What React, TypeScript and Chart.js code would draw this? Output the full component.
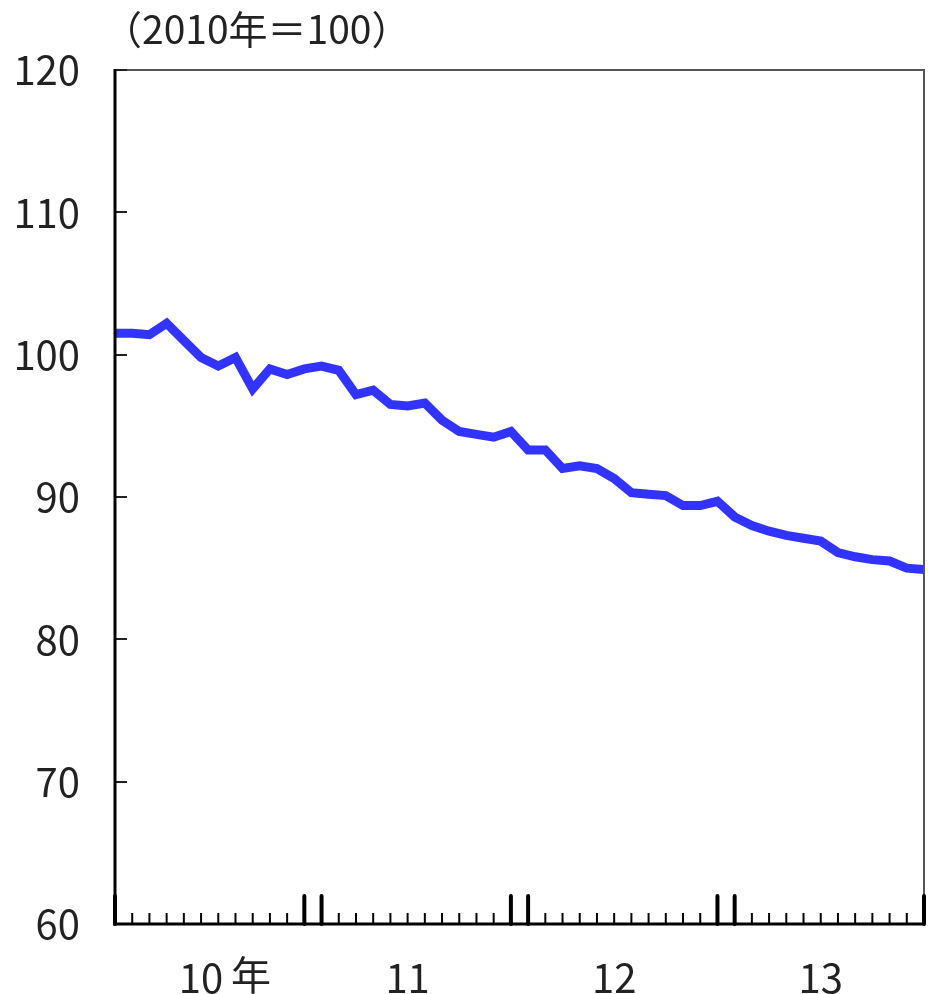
import { useEffect, useRef } from 'react';
import { Chart, registerables } from 'chart.js';

Chart.register(...registerables);

// Monthly index, Jan 2010 – Dec 2013 (2010 = 100)
const years = ['2010', '2011', '2012', '2013'];
const monthNums = ['01', '02', '03', '04', '05', '06', '07', '08', '09', '10', '11', '12'];
const categories: string[] = years.flatMap((y) => monthNums.map((m) => `${y}-${m}`));

const indexValues = [
  101.5, 101.5, 101.4, 102.2, 101.0, 99.8, 99.2, 99.8, 97.6, 99.0, 98.6, 99.0,
  99.2, 98.9, 97.2, 97.5, 96.5, 96.4, 96.6, 95.4, 94.6, 94.4, 94.2, 94.6,
  93.3, 93.3, 92.0, 92.2, 92.0, 91.3, 90.3, 90.2, 90.1, 89.4, 89.4, 89.7,
  88.6, 88.0, 87.6, 87.3, 87.1, 86.9, 86.1, 85.8, 85.6, 85.5, 85.0, 84.9,
];

// Year labels sit under June of each year
const yearLabels = ['10', '11', '12', '13'];
const yearLabelIndex = [5, 17, 29, 41];
const yearSuffix = '年';

const yMin = 60;
const yMax = 120;
const yStep = 10;

const titleText = '（2010年＝100）';

const FONT = '"Noto Sans CJK JP", "Noto Sans", sans-serif';
const TEXT_COLOR = '#222222';
const LINE_COLOR = '#3333FF';

const framePlugin = {
  id: 'framePlugin',
  afterDatasetsDraw(chart: any) {
    const { ctx, chartArea } = chart;
    const xs = chart.scales.x;
    const ys = chart.scales.y;
    const { left, right, top, bottom } = chartArea;
    ctx.save();
    // top & right frame (gray, thin)
    ctx.strokeStyle = '#555555';
    ctx.lineWidth = 2;
    ctx.beginPath();
    ctx.moveTo(left, top);
    ctx.lineTo(right, top);
    ctx.lineTo(right, bottom);
    ctx.stroke();
    // y inner ticks
    ctx.strokeStyle = '#222222';
    ctx.lineWidth = 2;
    for (let v = yMin + yStep; v <= yMax; v += yStep) {
      const py = Math.round(ys.getPixelForValue(v));
      ctx.beginPath();
      ctx.moveTo(left, py);
      ctx.lineTo(left + 12, py);
      ctx.stroke();
    }
    // x inner ticks (one per month, long at year boundaries)
    categories.forEach((_, i) => {
      const px = xs.getPixelForValue(i);
      const m = i % 12;
      const major = m === 0 || m === 11;
      ctx.beginPath();
      ctx.strokeStyle = '#000000';
      ctx.lineWidth = major ? 4 : 2;
      ctx.lineCap = major ? 'round' : 'butt';
      ctx.moveTo(px, bottom);
      ctx.lineTo(px, bottom - (major ? 28 : 11));
      ctx.stroke();
    });
    ctx.lineCap = 'butt';
    // left & bottom axes (black, thicker)
    ctx.strokeStyle = '#000000';
    ctx.lineWidth = 3;
    ctx.beginPath();
    ctx.moveTo(left, top - 1);
    ctx.lineTo(left, bottom);
    ctx.lineTo(right + 1, bottom);
    ctx.stroke();
    ctx.restore();
  },
  afterDraw(chart: any) {
    const { ctx } = chart;
    const xs = chart.scales.x;
    ctx.save();
    ctx.fillStyle = TEXT_COLOR;
    ctx.font = `39px ${FONT}`;
    ctx.textBaseline = 'middle';
    ctx.textAlign = 'left';
    ctx.fillText(titleText, 103, 29);
    // "年" suffix following the first year label
    ctx.font = `40px ${FONT}`;
    ctx.textAlign = 'center';
    ctx.textBaseline = 'middle';
    const px = xs.getPixelForValue(yearLabelIndex[0]);
    ctx.fillText(yearSuffix, px + 50, 975);
    ctx.restore();
  },
};

export default function App() {
  const ref = useRef<HTMLCanvasElement | null>(null);

  useEffect(() => {
    if (!ref.current) return;
    const chart = new Chart(ref.current, {
      type: 'line',
      data: {
        labels: categories,
        datasets: [
          {
            data: indexValues.map((v, i) => ({ x: i, y: v })),
            borderColor: LINE_COLOR,
            backgroundColor: LINE_COLOR,
            borderWidth: 9,
            pointRadius: 0,
            tension: 0,
            borderJoinStyle: 'miter',
            fill: false,
          },
        ],
      },
      options: {
        animation: false,
        responsive: false,
        maintainAspectRatio: false,
        layout: { padding: { left: 0, right: 10, top: 70, bottom: 0 } },
        plugins: {
          legend: { display: false },
          tooltip: { enabled: false },
          title: { display: false },
        },
        scales: {
          x: {
            type: 'linear',
            min: 0,
            max: categories.length - 1,
            afterBuildTicks: (s: any) => {
              s.ticks = yearLabelIndex.map((v) => ({ value: v }));
            },
            afterFit: (s: any) => {
              s.height = 70;
            },
            ticks: {
              autoSkip: false,
              maxRotation: 0,
              padding: 30,
              color: TEXT_COLOR,
              font: { family: FONT, size: 40 },
              callback: (v: any) => {
                const k = yearLabelIndex.indexOf(Number(v));
                return k >= 0 ? yearLabels[k] : '';
              },
            },
            grid: { display: false, drawTicks: false },
            border: { display: false },
          },
          y: {
            min: yMin,
            max: yMax,
            afterFit: (s: any) => {
              s.width = 115;
            },
            ticks: {
              stepSize: yStep,
              padding: 35,
              color: TEXT_COLOR,
              font: { family: FONT, size: 40 },
            },
            grid: { display: false, drawTicks: false },
            border: { display: false },
          },
        },
      },
      plugins: [framePlugin],
    });
    return () => chart.destroy();
  }, []);

  return (
    <div style={{ position: 'fixed', left: 0, top: 0, width: 934, height: 994, background: '#ffffff' }}>
      <canvas ref={ref} width={934} height={994} style={{ display: 'block', width: 934, height: 994 }} />
    </div>
  );
}
